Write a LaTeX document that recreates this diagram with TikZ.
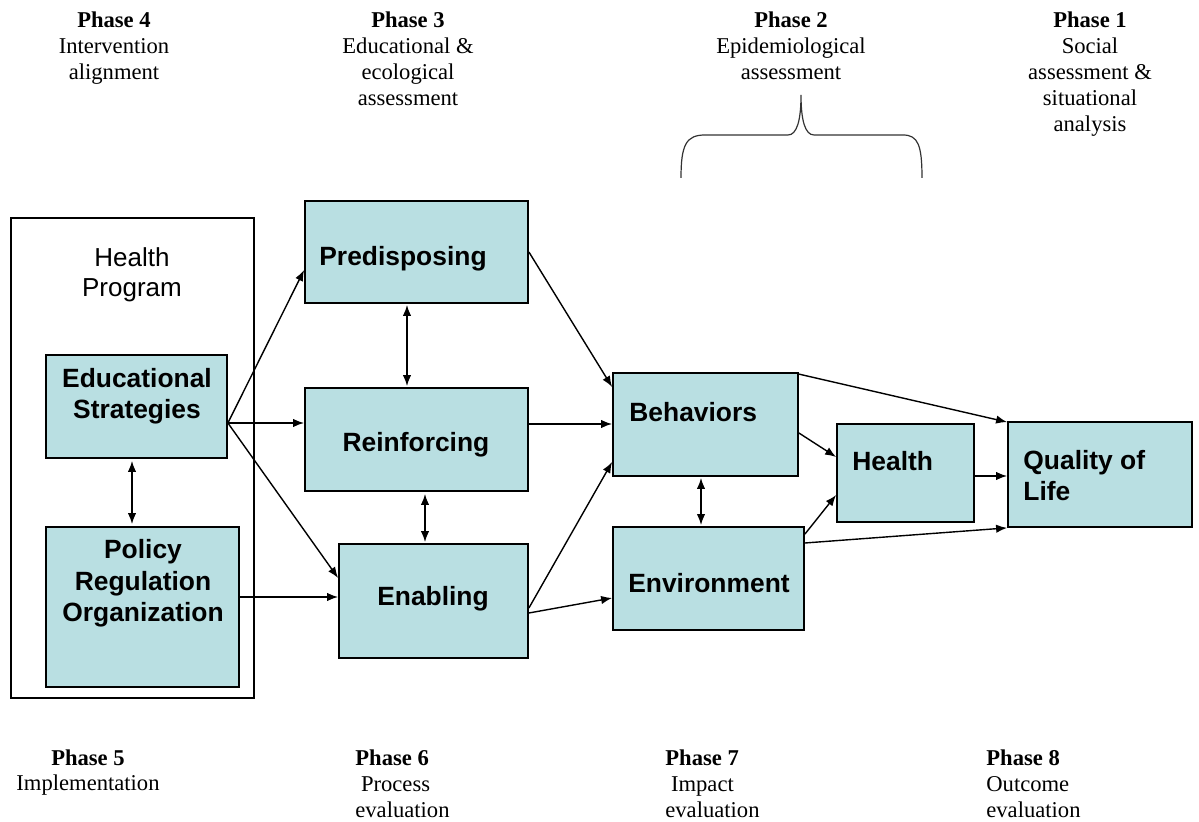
\documentclass[tikz,border=0pt]{standalone}
\usepackage{fontspec}
\setmainfont{Liberation Serif}
\setsansfont{Liberation Sans}
\usetikzlibrary{arrows.meta, calc, positioning}
\definecolor{boxblue}{RGB}{185,223,226}

\begin{document}
\begin{tikzpicture}[x=0.5pt, y=-0.5pt]
  \tikzstyle{box} = [rectangle, fill=boxblue, draw, line width=0.9pt, inner sep=0pt]
  \tikzstyle{boxtext} = [font=\sffamily\bfseries\fontsize{13.2}{15.8}\selectfont, inner sep=0pt, anchor=base, align=center]
  \tikzstyle{phase} = [font=\fontsize{11.3}{13}\selectfont, inner sep=0pt, anchor=base, align=center]
  \tikzstyle{flow} = [-{Latex[length=5.5pt,width=4.2pt]}, line width=0.7pt]
  \tikzstyle{twoway} = [{Latex[length=5.5pt,width=4.2pt]}-{Latex[length=5.5pt,width=4.2pt]}, line width=0.7pt]
  \useasboundingbox (0,0) rectangle (1199,822);

  % phases on top (placed at the baseline of their last line)
  \node[phase] at (114,80) (ph4) {\textbf{Phase 4}\\Intervention\\alignment};
  \node[phase] at (408,106) (ph3) {\textbf{Phase 3}\\Educational \&\\ecological\\assessment};
  \node[phase] at (791,80) (ph2) {\textbf{Phase 2}\\Epidemiological\\assessment};
  \node[phase] at (1090,132) (ph1) {\textbf{Phase 1}\\Social\\assessment \&\\situational\\analysis};
  \draw[line width=0.6pt, black!80] (681,178) .. controls (681,145) and (686,135) .. (705,135) -- (788,135)
    .. controls (797,135) and (801,120) .. (801,95) .. controls (801,120) and (805,135) .. (814,135)
    -- (903,135) .. controls (918,135) and (922,145) .. (922,178);

  % health program
  \node[rectangle, draw, line width=0.9pt, minimum width=121.5pt, minimum height=240pt] at (132.5,458) (prog) {};
  \node[boxtext, font=\sffamily\fontsize{13}{15}\selectfont] at (132,297) (progt) {Health\\Program};
  \node[box, minimum width=90.5pt, minimum height=51.5pt] at (136.5,406.5) (edu) {};
  \node[boxtext] at (137,419) (edut) {Educational\\Strategies};
  \node[box, minimum width=96.5pt, minimum height=80pt] at (142.5,607) (pol) {};
  \node[boxtext] at (143,622) (polt) {Policy\\Regulation\\Organization};

  % factors
  \node[box, minimum width=111.5pt, minimum height=51pt] at (416.5,252) (pre) {};
  \node[boxtext] at (403,266) (pret) {Predisposing};
  \node[box, minimum width=111.5pt, minimum height=51.5pt] at (416.5,439.5) (rei) {};
  \node[boxtext] at (416,452) (reit) {Reinforcing};
  \node[box, minimum width=94.5pt, minimum height=57pt] at (433.5,601) (ena) {};
  \node[boxtext] at (433,606) (enat) {Enabling};

  % outcomes
  \node[box, minimum width=92.5pt, minimum height=51.5pt] at (705.5,424.5) (beh) {};
  \node[boxtext, anchor=base west] at (629,422) (beht) {Behaviors};
  \node[box, minimum width=95.5pt, minimum height=51.5pt] at (708.5,578.5) (env) {};
  \node[boxtext] at (709,593) (envt) {Environment};
  \node[box, minimum width=68.5pt, minimum height=49pt] at (905.5,473) (hea) {};
  \node[boxtext, anchor=base west] at (852,471) (heat) {Health};
  \node[box, minimum width=92pt, minimum height=52.5pt] at (1100,474.5) (qol) {};
  \node[boxtext, anchor=base west, align=left] at (1023,501) (qolt) {Quality of\\Life};

  % phases at the bottom
  \node[phase] at (88,791) (ph5) {\textbf{Phase 5}\\Implementation};
  \node[phase, anchor=base west, align=left] at (355,817) (ph6) {\textbf{Phase 6}\\\ Process\\evaluation};
  \node[phase, anchor=base west, align=left] at (665,817) (ph7) {\textbf{Phase 7}\\\ Impact\\evaluation};
  \node[phase, anchor=base west, align=left] at (986,817) (ph8) {\textbf{Phase 8}\\Outcome\\evaluation};

  % arrows
  \draw[flow] ($(edu.east)+(0,16.5)$) -- ($(pre.west)+(0,18)$);
  \draw[flow] ($(edu.east)+(0,16.5)$) -- ($(rei.west)+(0,-16.5)$);
  \draw[flow] ($(edu.east)+(0,16.5)$) -- ($(ena.west)+(0,-23)$);
  \draw[flow] ($(pol.east)+(0,-10)$) -- ($(ena.west)+(0,-4)$);
  \draw[twoway] ($(edu.south)+(-4.5,2)$) -- ($(pol.north)+(-10.5,-2)$);
  \draw[twoway] ($(pre.south)+(-9.5,1)$) -- ($(rei.north)+(-9.5,-1)$);
  \draw[twoway] ($(rei.south)+(8.5,2)$) -- ($(ena.north)+(-8.5,-1)$);
  \draw[flow] (pre.east) -- ($(beh.west)+(0,-37.5)$);
  \draw[flow] ($(rei.east)+(0,-15.5)$) -- ($(beh.west)+(0,-0.5)$);
  \draw[flow] ($(ena.east)+(0,7)$) -- ($(beh.west)+(0,37.5)$);
  \draw[flow] ($(ena.east)+(0,12)$) -- ($(env.west)+(0,19.5)$);
  \draw[twoway] ($(beh.south)+(-4.5,1)$) -- ($(env.north)+(-7.5,-1)$);
  \draw[flow] ($(beh.north east)+(0,2)$) -- ($(qol.north west)+(0,1)$);
  \draw[flow] ($(beh.east)+(0,8.5)$) -- ($(hea.west)+(0,-16)$);
  \draw[flow] ($(env.north east)+(0,8)$) -- ($(hea.west)+(0,22)$);
  \draw[flow] ($(env.east)+(0,-35.5)$) -- (qol.south west);
  \draw[flow] ($(hea.east)+(0,3)$) -- ($(qol.west)+(0,1.5)$);
\end{tikzpicture}
\end{document}
